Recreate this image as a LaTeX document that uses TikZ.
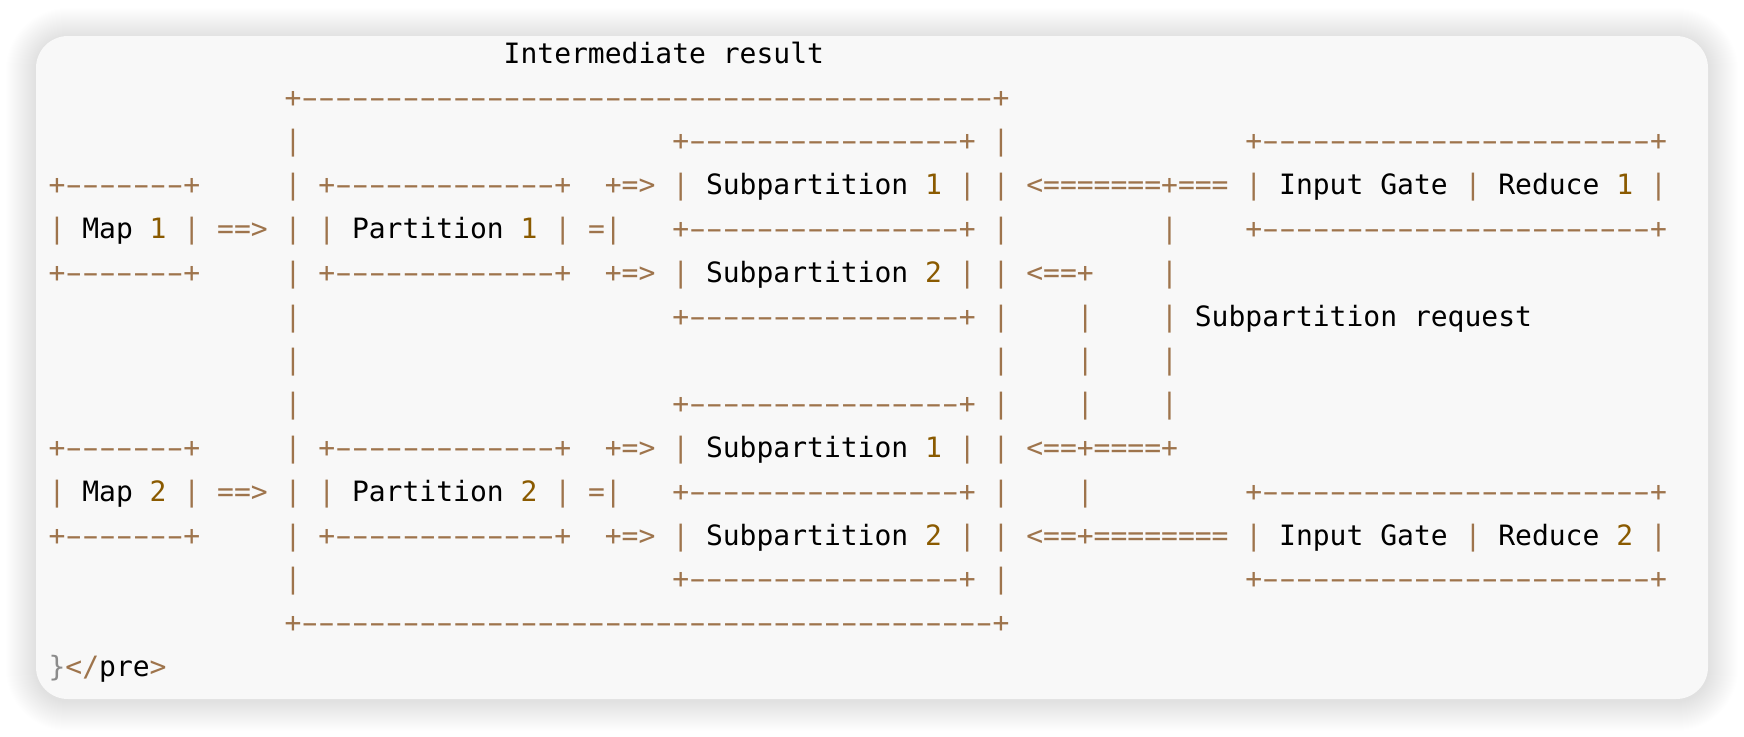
\documentclass[tikz,border=0pt]{standalone}
\usepackage{fontspec}
\setmonofont{DejaVu Sans Mono}
\definecolor{pc}{HTML}{9E744C}
\definecolor{nc}{HTML}{8A5A00}
\definecolor{bc}{HTML}{8C8C8C}
\definecolor{card}{HTML}{F8F8F8}
\newlength\cw \setlength\cw{16.857pt}
\newcommand\sk[1]{\hspace*{#1\cw}}
\newcommand\kt[1]{\textcolor{black}{#1}}
\newcommand\kn[1]{\textcolor{nc}{#1}}
\newcommand\dsh{\makebox[\cw][c]{\scalebox{1.75}[1]{-}}}
\ExplSyntaxOn
\cs_new:Npn \rpt #1#2 {\prg_replicate:nn {#1} {#2}}
\ExplSyntaxOff
\begin{document}
\begin{tikzpicture}[x=1pt,y=-1pt,
  row/.style={anchor=base west, inner sep=0pt, outer sep=0pt, text=pc,
    font=\ttfamily\fontsize{28}{30}\selectfont}]
\useasboundingbox (0,0) rectangle (1744,736);
\fill[white] (0,0) rectangle (1744,736);
\foreach \i [evaluate=\i as \r using 32+\i] in {1,...,30}
  {\fill[black, opacity=0.0042, rounded corners=\r pt] (36-\i,38-\i) rectangle (1708+\i,701+\i);}
\fill[card, rounded corners=32pt] (36,36) rectangle (1708,699);
% rows
\node[row] (r0) at (503.7,63.3) {\kt{Intermediate\sk{1}result}};
\node[row] (r1) at (284.6,107.1) {+\rpt{41}{\dsh}+};
\node[row] (r2) at (284.6,150.9) {|\sk{22}+\rpt{16}{\dsh}+\sk{1}|\sk{14}+\rpt{23}{\dsh}+};
\node[row] (r3) at (48.6,194.7) {+\rpt{7}{\dsh}+\sk{5}|\sk{1}+\rpt{13}{\dsh}+\sk{2}+=>\sk{1}|\sk{1}\kt{Subpartition}\sk{1}\kn{1}\sk{1}|\sk{1}|\sk{1}<\rpt{7}{=}+===\sk{1}|\sk{1}\kt{Input\sk{1}Gate}\sk{1}|\sk{1}\kt{Reduce}\sk{1}\kn{1}\sk{1}|};
\node[row] (r4) at (48.6,238.5) {|\sk{1}\kt{Map}\sk{1}\kn{1}\sk{1}|\sk{1}==>\sk{1}|\sk{1}|\sk{1}\kt{Partition}\sk{1}\kn{1}\sk{1}|\sk{1}=|\sk{3}+\rpt{16}{\dsh}+\sk{1}|\sk{9}|\sk{4}+\rpt{23}{\dsh}+};
\node[row] (r5) at (48.6,282.3) {+\rpt{7}{\dsh}+\sk{5}|\sk{1}+\rpt{13}{\dsh}+\sk{2}+=>\sk{1}|\sk{1}\kt{Subpartition}\sk{1}\kn{2}\sk{1}|\sk{1}|\sk{1}<==+\sk{4}|};
\node[row] (r6) at (284.6,326.1) {|\sk{22}+\rpt{16}{\dsh}+\sk{1}|\sk{4}|\sk{4}|\sk{1}\kt{Subpartition\sk{1}request}};
\node[row] (r7) at (284.6,369.9) {|\sk{41}|\sk{4}|\sk{4}|};
\node[row] (r8) at (284.6,413.7) {|\sk{22}+\rpt{16}{\dsh}+\sk{1}|\sk{4}|\sk{4}|};
\node[row] (r9) at (48.6,457.5) {+\rpt{7}{\dsh}+\sk{5}|\sk{1}+\rpt{13}{\dsh}+\sk{2}+=>\sk{1}|\sk{1}\kt{Subpartition}\sk{1}\kn{1}\sk{1}|\sk{1}|\sk{1}<==+====+};
\node[row] (r10) at (48.6,501.3) {|\sk{1}\kt{Map}\sk{1}\kn{2}\sk{1}|\sk{1}==>\sk{1}|\sk{1}|\sk{1}\kt{Partition}\sk{1}\kn{2}\sk{1}|\sk{1}=|\sk{3}+\rpt{16}{\dsh}+\sk{1}|\sk{4}|\sk{9}+\rpt{23}{\dsh}+};
\node[row] (r11) at (48.6,545.1) {+\rpt{7}{\dsh}+\sk{5}|\sk{1}+\rpt{13}{\dsh}+\sk{2}+=>\sk{1}|\sk{1}\kt{Subpartition}\sk{1}\kn{2}\sk{1}|\sk{1}|\sk{1}<==+\rpt{8}{=}\sk{1}|\sk{1}\kt{Input\sk{1}Gate}\sk{1}|\sk{1}\kt{Reduce}\sk{1}\kn{2}\sk{1}|};
\node[row] (r12) at (284.6,588.9) {|\sk{22}+\rpt{16}{\dsh}+\sk{1}|\sk{14}+\rpt{23}{\dsh}+};
\node[row] (r13) at (284.6,632.7) {+\rpt{41}{\dsh}+};
\node[row] (r14) at (48.6,676.5) {\textcolor{bc}{\}}</\kt{pre}>};
\end{tikzpicture}
\end{document}
